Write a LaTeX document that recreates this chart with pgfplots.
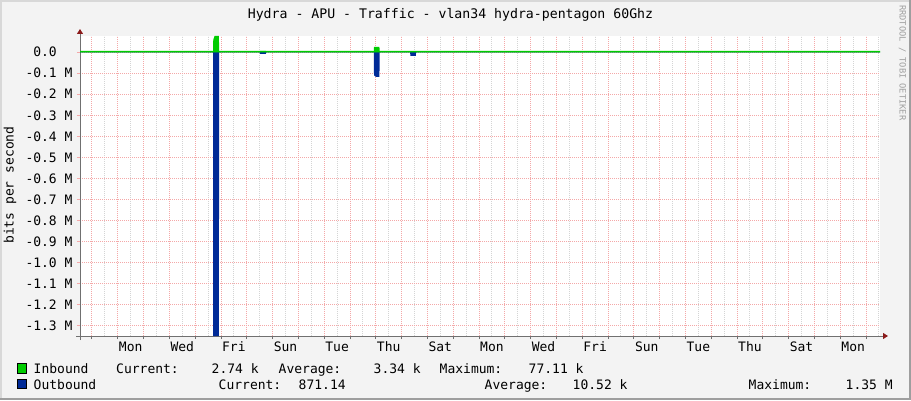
\documentclass[border=0pt]{standalone}
\usepackage{fontspec}
\setmainfont{DejaVu Sans Mono}
\usepackage{pgfplots}
\pgfplotsset{compat=1.18}
\usetikzlibrary{arrows.meta}
\definecolor{canvas}{HTML}{F3F3F3}
\definecolor{frlight}{HTML}{D8D8D8}
\definecolor{frdark}{HTML}{9E9E9E}
\definecolor{inb}{HTML}{00CC00}
\definecolor{outb}{HTML}{002A97}
\definecolor{mgrid}{HTML}{F4A8A8}
\definecolor{mingrid}{HTML}{D4D4D4}
\definecolor{axcol}{HTML}{707070}
\definecolor{arrcol}{HTML}{8B1A1A}
\definecolor{sidecol}{HTML}{A0A0A0}
\begin{document}
\fontsize{13}{15}\selectfont
\begin{tikzpicture}[x=1pt,y=1pt]
\useasboundingbox (0,0) rectangle (911,400);
\fill[canvas] (0,0) rectangle (911,400);
\fill[frlight] (0,0) rectangle (2,400);
\fill[frlight] (0,398) rectangle (911,400);
\fill[frdark] (909,0) rectangle (911,400);
\fill[frdark] (0,0) rectangle (911,2);
\begin{axis}[
  at={(80pt,64pt)}, anchor=south west,
  scale only axis, width=800pt, height=300pt,
  xmin=-0.465, xmax=30.54, ymin=-1.35, ymax=0.07711,
  axis background/.style={fill=white},
  axis lines=left,
  x axis line style={draw=axcol, line width=1pt, shorten <=-4pt, shorten >=-8pt, -{Triangle[length=5pt,width=6pt,color=arrcol]}},
  y axis line style={draw=axcol, line width=1pt, shorten <=-4pt, shorten >=-7pt, -{Triangle[length=5pt,width=6pt,color=arrcol]}},
  tick align=outside, major tick length=3pt, minor tick length=0pt,
  x tick style={draw=axcol, line width=1pt},
  y tick style={draw=mgrid, line width=1pt},
  xtick={0,1,...,30}, xticklabels={},
  minor xtick={0.5,1.5,...,30.5},
  extra x ticks={1.5,3.5,...,29.5},
  extra x tick labels={Mon,Wed,Fri,Sun,Tue,Thu,Sat,Mon,Wed,Fri,Sun,Tue,Thu,Sat,Mon},
  extra x tick style={grid=none, major tick length=0pt, tick label style={yshift=-1.5pt}},
  ytick={-1.3,-1.2,-1.1,-1.0,-0.9,-0.8,-0.7,-0.6,-0.5,-0.4,-0.3,-0.2,-0.1,0},
  yticklabels={-1.3 M,-1.2 M,-1.1 M,-1.0 M,-0.9 M,-0.8 M,-0.7 M,-0.6 M,-0.5 M,-0.4 M,-0.3 M,-0.2 M,-0.1 M,0.0\phantom{xx}},
  xmajorgrids, xminorgrids, ymajorgrids,
  major grid style={draw=mgrid, dash pattern=on 1pt off 1pt, line width=1pt},
  minor grid style={draw=mingrid, dash pattern=on 1pt off 1pt, line width=1pt},
  ylabel={bits per second},
  ylabel style={at={(axis description cs:-0.0875,0.503)}, anchor=center},
]
% Outbound (negative)
\addplot[fill=outb, draw=none] coordinates {
(-0.47,0) (-0.47,-0.0009) (4.69,-0.0009) (4.695,-1.35) (4.92,-1.35) (4.925,-0.0009)
(6.50,-0.0009) (6.51,-0.008) (6.74,-0.008) (6.75,-0.0009)
(10.92,-0.0009) (10.93,-0.110) (11.00,-0.117) (11.14,-0.117) (11.15,-0.0009)
(12.33,-0.0009) (12.34,-0.018) (12.55,-0.018) (12.56,-0.0009)
(30.55,-0.00087) (30.55,0)} \closedcycle;
% Inbound (positive)
\addplot[fill=inb, draw=none] coordinates {
(-0.47,0) (-0.47,0.003) (4.69,0.003) (4.70,0.06) (4.75,0.07711) (4.92,0.07711) (4.925,0.003)
(6.50,0.003) (6.51,0.006) (6.74,0.006) (6.75,0.003)
(10.92,0.003) (10.93,0.025) (11.14,0.025) (11.15,0.003)
(12.33,0.003) (12.34,0.004) (12.55,0.004) (12.56,0.003)
(30.55,0.00274) (30.55,0)} \closedcycle;
% Inbound baseline line
\addplot[draw=inb, line width=1.6pt] coordinates {(-0.47,0.003) (30.55,0.00274)};
\end{axis}
% title
\node[anchor=base, inner sep=0pt, font=\fontsize{13.2}{15}\selectfont] at (450.5,381.7) {Hydra - APU - Traffic - vlan34 hydra-pentagon 60Ghz};
% side text
\node[rotate=-90, anchor=west, inner sep=0pt, text=sidecol, font=\fontsize{8.7}{10}\selectfont] at (902.5,395) {RRDTOOL / TOBI OETIKER};
% legend
\fill[inb, draw=black, line width=0.8pt] (17.5,27) rectangle (26.5,36.3);
\fill[outb, draw=black, line width=0.8pt] (17.5,11.5) rectangle (26.5,20.8);
\begin{scope}[every node/.style={anchor=base west, inner sep=0pt}]
\node at (33.5,26.7) {Inbound};
\node at (116,26.7) {Current:};
\node at (211.5,26.7) {2.74 k};
\node at (278.5,26.7) {Average:};
\node at (373.5,26.7) {3.34 k};
\node at (439.5,26.7) {Maximum:};
\node at (528.5,26.7) {77.11 k};
\node at (33.5,11) {Outbound};
\node at (218.5,11) {Current:};
\node at (298.5,11) {871.14};
\node at (484.5,11) {Average:};
\node at (572.5,11) {10.52 k};
\node at (748.5,11) {Maximum:};
\node at (845.5,11) {1.35 M};
\end{scope}
\end{tikzpicture}
\end{document}
